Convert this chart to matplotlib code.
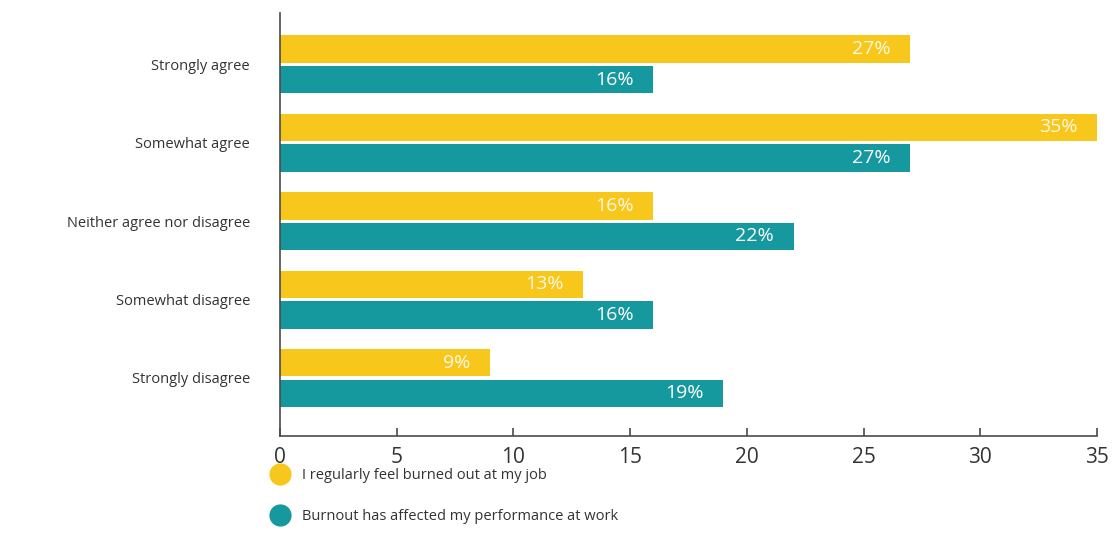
import matplotlib
matplotlib.use("Agg")
import matplotlib.pyplot as plt
from matplotlib.lines import Line2D
import numpy as np

categories = ["Strongly agree", "Somewhat agree", "Neither agree nor disagree",
              "Somewhat disagree", "Strongly disagree"]
burned_out = [27, 35, 16, 13, 9]
performance = [16, 27, 22, 16, 19]
series_labels = ["I regularly feel burned out at my job",
                 "Burnout has affected my performance at work"]
xticks = [0, 5, 10, 15, 20, 25, 30, 35]

YELLOW = "#F8C71C"
TEAL = "#16999E"
AXIS = "#4a4a4a"

plt.rcParams['font.family'] = ['Open Sans', 'DejaVu Sans']

fig = plt.figure(figsize=(11.18, 5.51), dpi=100)
ax = fig.add_axes([0.2504, 0.2087, 0.7308, 0.7673])

y = np.arange(len(categories))
h = 0.35
gap = 0.04
ax.barh(y - h / 2 - gap / 2, burned_out, height=h, color=YELLOW)
ax.barh(y + h / 2 + gap / 2, performance, height=h, color=TEAL)

for yi, v in zip(y, burned_out):
    ax.text(v - 0.85, yi - h / 2 - gap / 2, f"{v}%", ha="right", va="center",
            color="#FFF8E6", fontsize=14)
for yi, v in zip(y, performance):
    ax.text(v - 0.85, yi + h / 2 + gap / 2, f"{v}%", ha="right", va="center",
            color="white", fontsize=14)

ax.set_xlim(0, 35)
ax.set_ylim(4.74, -0.65)
ax.set_yticks(y)
ax.set_yticklabels(categories, fontsize=10.5, color="#333333")
ax.tick_params(axis="y", length=0, pad=21.5)
ax.set_xticks(xticks)
ax.set_xticklabels([str(t) for t in xticks], fontsize=15, color="#333333")
ax.tick_params(axis="x", direction="in", length=6, width=1.2, color=AXIS, pad=8)

for s in ["top", "right"]:
    ax.spines[s].set_visible(False)
for s in ["left", "bottom"]:
    ax.spines[s].set_color(AXIS)
    ax.spines[s].set_linewidth(1.2)

handles = [Line2D([], [], marker="o", linestyle="none", markersize=15,
                  markerfacecolor=c, markeredgecolor=c) for c in (YELLOW, TEAL)]
fig.legend(handles, series_labels, loc="upper left", bbox_to_anchor=(0.226, 0.174),
           frameon=False, fontsize=10.5, labelspacing=1.75, handletextpad=0.45,
           labelcolor="#333333")

fig.savefig("out.png", dpi=100)
